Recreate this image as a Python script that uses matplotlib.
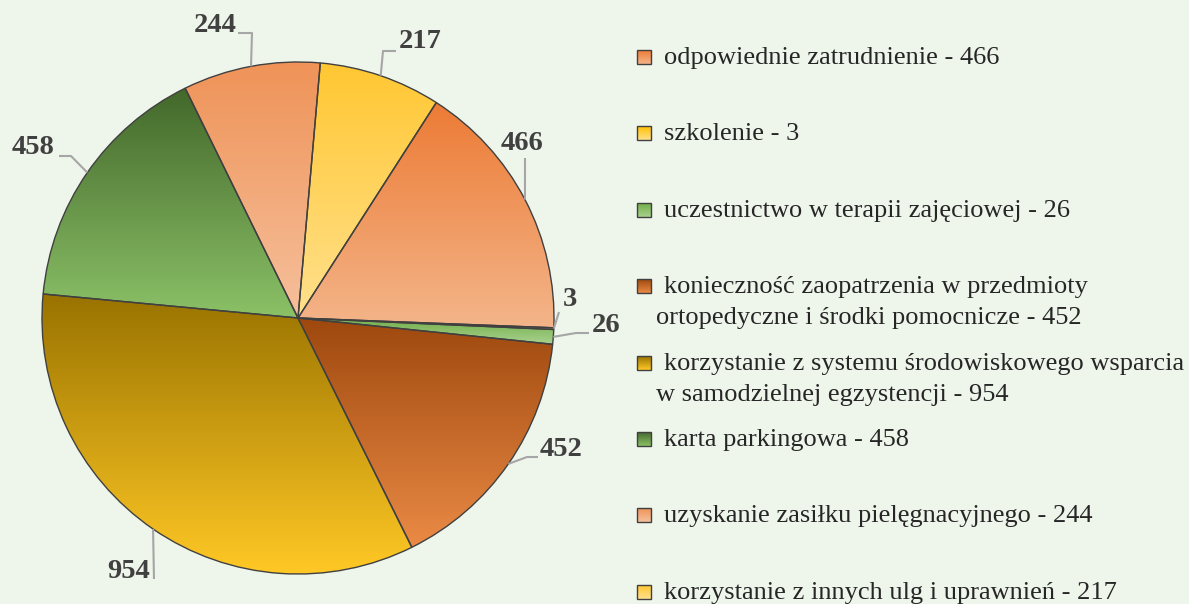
import numpy as np
import matplotlib
matplotlib.use("Agg")
import matplotlib.pyplot as plt
from matplotlib.colors import to_rgb
from matplotlib.patches import Rectangle

# === DATA ===

CATEGORIES = [
    "odpowiednie zatrudnienie",
    "szkolenie",
    "uczestnictwo w terapii zajęciowej",
    "konieczność zaopatrzenia w przedmioty\nortopedyczne i środki pomocnicze",
    "korzystanie z systemu środowiskowego wsparcia\nw samodzielnej egzystencji",
    "karta parkingowa",
    "uzyskanie zasiłku pielęgnacyjnego",
    "korzystanie z innych ulg i uprawnień",
]
VALUES = [466, 3, 26, 452, 954, 458, 244, 217]

# gradient colours per slice: (top / dark, bottom / light)
TOP_COLORS = ["#EC7B35", "#FFC000", "#70AD47", "#9E480E", "#997300", "#43682B", "#EF9358", "#FFC732"]
BOTTOM_COLORS = ["#F4B58A", "#FFE08A", "#A9D18E", "#EA8A45", "#FFC825", "#8BC167", "#F6C09C", "#FFE08C"]

# === LAYOUT (pixels, y measured from top) ===

W, H = 1189, 604
BG = "#EEF5EA"
CX, CY, R = 298, 318, 256
START_ANGLE = 57.3

# label text position and elbow point of leader line, per slice
LABEL_POS = [(522, 143), (570, 300), (606, 326), (561, 449), (129, 571), (33, 148), (215, 25), (420, 42)]
ELBOW_POS = [(525, 158), (559, 312), (576, 333), (527, 457), (154, 579), (71, 156), (252, 33), (383, 51)]
LEADER_END = [(525, 158), (559, 312), (589, 333), (538, 457), (154, 579), (59, 156), (238, 33), (396, 51)]

LEGEND_X = 637
LEGEND_TOP = 57
LEGEND_STEP = 76.4


def flip(y):
    return H - y


def gradient_image(ax, top, bottom, extent, clip):
    c0 = np.array(to_rgb(bottom))
    c1 = np.array(to_rgb(top))
    t = np.linspace(0, 1, 128)[:, None, None]
    img = c0 + (c1 - c0) * t
    im = ax.imshow(img, extent=extent, origin="lower", aspect="auto",
                   interpolation="bilinear", zorder=1)
    im.set_clip_path(clip)


fig = plt.figure(figsize=(W / 100, H / 100), dpi=100)
fig.patch.set_facecolor(BG)
ax = fig.add_axes([0, 0, 1, 1])
ax.set_facecolor(BG)

wedges, _ = ax.pie(
    VALUES,
    center=(CX, flip(CY)),
    radius=R,
    startangle=START_ANGLE,
    counterclock=False,
    wedgeprops=dict(edgecolor="#404040", linewidth=1.0),
    frame=True,
)

for i, w in enumerate(wedges):
    th = np.radians(np.linspace(w.theta1, w.theta2, 200))
    xs = np.concatenate([[CX], CX + R * np.cos(th)])
    ys = np.concatenate([[flip(CY)], flip(CY) + R * np.sin(th)])
    w.set_facecolor("none")
    w.set_zorder(2)
    gradient_image(ax, TOP_COLORS[i], BOTTOM_COLORS[i],
                   (xs.min(), xs.max(), ys.min(), ys.max()), w)

    # leader line from mid angle of the slice to the label
    mid = np.radians((w.theta1 + w.theta2) / 2)
    ax_x = CX + R * np.cos(mid)
    ax_y = flip(CY) + R * np.sin(mid)
    ex, ey = ELBOW_POS[i]
    lx, ly = LEADER_END[i]
    ax.plot([ax_x, ex, lx], [ax_y, flip(ey), flip(ly)], color="#A6A6A6",
            lw=1.5, zorder=3, solid_capstyle="butt")
    tx, ty = LABEL_POS[i]
    ax.text(tx, flip(ty), str(VALUES[i]), ha="center", va="center",
            fontsize=20.5, fontweight="bold", family="Liberation Serif",
            color="#404040", zorder=4)

# legend
for i, (cat, val) in enumerate(zip(CATEGORIES, VALUES)):
    yc = LEGEND_TOP + i * LEGEND_STEP
    rect = Rectangle((LEGEND_X, flip(yc + 7)), 14, 14, facecolor="none",
                     edgecolor="#404040", lw=1.0, zorder=3)
    ax.add_patch(rect)
    gradient_image(ax, TOP_COLORS[i], BOTTOM_COLORS[i],
                   (LEGEND_X, LEGEND_X + 14, flip(yc + 7), flip(yc - 7)), rect)
    lines = f"{cat} - {val}".split("\n")
    for j, line in enumerate(lines):
        x = LEGEND_X + 27 if j == 0 else LEGEND_X + 19
        ax.text(x, flip(yc + j * 31) - 1, line, ha="left", va="center",
                fontsize=19, family="Liberation Serif", color="#262626")

ax.set_xlim(0, W)
ax.set_ylim(0, H)
ax.set_aspect("auto")
ax.axis("off")

fig.savefig("out.png", dpi=100, facecolor=BG)
